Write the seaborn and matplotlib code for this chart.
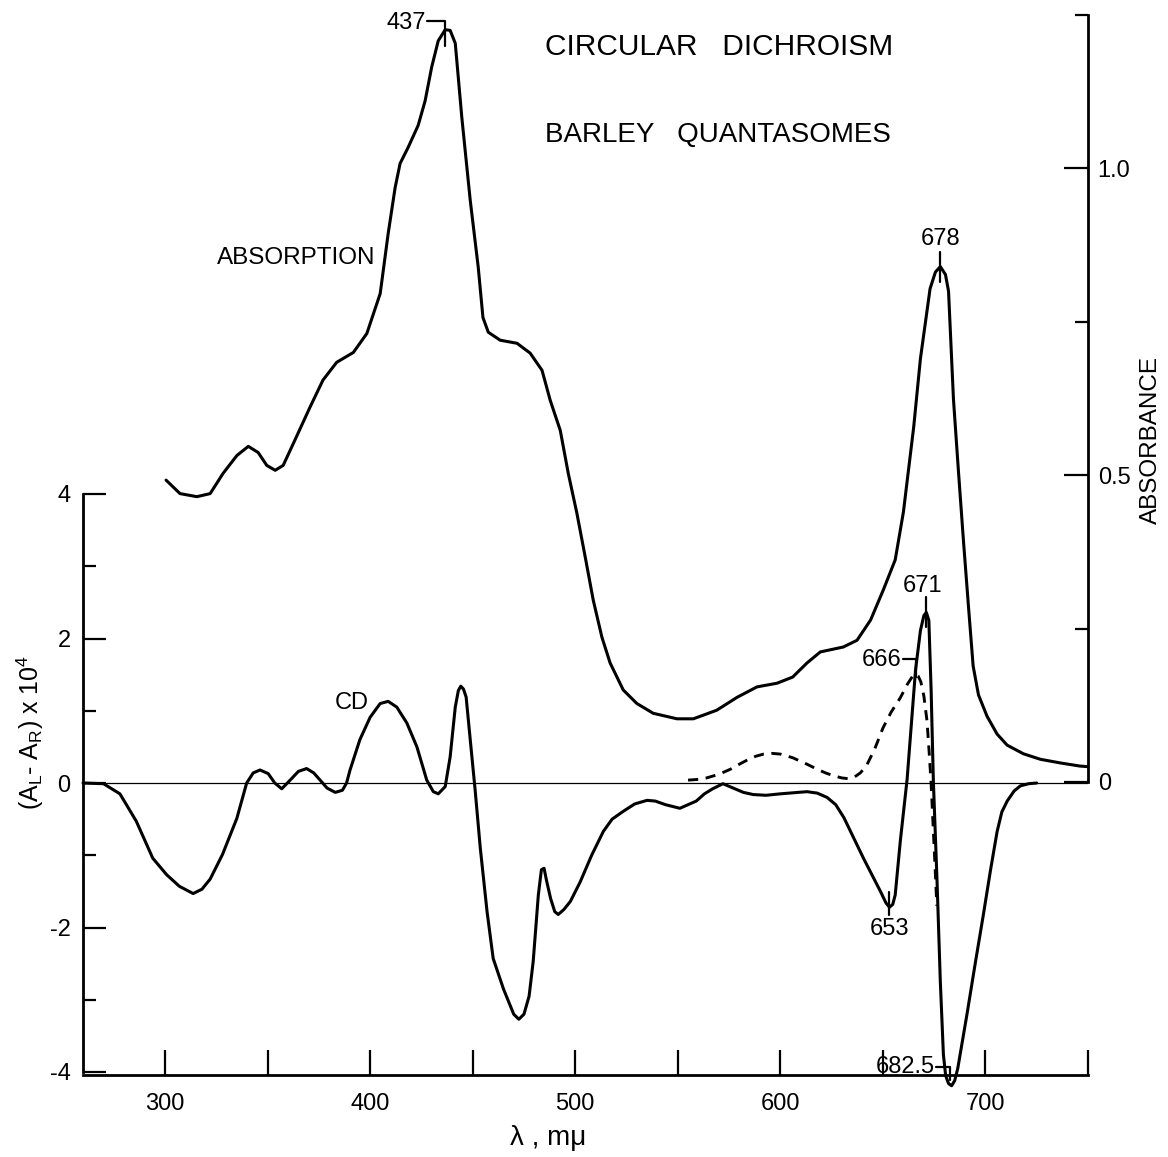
import numpy as np
import pandas as pd
import matplotlib
matplotlib.use("Agg")
import matplotlib.pyplot as plt
from matplotlib.lines import Line2D
import seaborn as sns

# ---------------- data ----------------
abs_nm = [300.5, 307.3, 315.5, 322, 328.3, 335, 340.6, 345.4, 349.6, 353.7, 357.6, 362.6, 370.7,
          377, 383.7, 391.8, 398.4, 404.9, 408.8, 412.2, 414.6, 418.5, 423.4, 426.8, 430, 433.2,
          436.6, 439, 441.5, 444.7, 448.8, 452.7, 455, 457.6, 463.4, 471.6, 478, 483.8, 487.8,
          492.7, 496.6, 500.8, 504.9, 508.8, 513, 517, 523.4, 530, 538, 549.6, 557.6, 569, 578.9,
          588.6, 598.4, 606, 613, 619.5, 630.7, 637.4, 644, 650.2, 656, 660, 665, 668.3, 673,
          675.6, 678, 680.5, 682, 684.4, 686.8, 689.3, 691.7, 694, 696.6, 700.8, 705.7, 710.6,
          718.5, 726.8, 736.6, 746, 750]
abs_val = [0.492, 0.47, 0.465, 0.47, 0.503, 0.532, 0.547, 0.537, 0.516, 0.508, 0.516, 0.552, 0.611,
           0.655, 0.684, 0.70, 0.731, 0.796, 0.894, 0.969, 1.008, 1.034, 1.07, 1.11, 1.165, 1.208,
           1.226, 1.225, 1.204, 1.083, 0.948, 0.839, 0.757, 0.733, 0.72, 0.715, 0.699, 0.671, 0.622,
           0.573, 0.503, 0.438, 0.366, 0.296, 0.236, 0.194, 0.15, 0.128, 0.112, 0.103, 0.103, 0.117,
           0.138, 0.155, 0.161, 0.171, 0.194, 0.212, 0.22, 0.231, 0.264, 0.313, 0.362, 0.44, 0.578,
           0.69, 0.804, 0.831, 0.84, 0.827, 0.80, 0.624, 0.508, 0.392, 0.287, 0.189, 0.142, 0.107,
           0.078, 0.06, 0.046, 0.037, 0.031, 0.026, 0.025]

cd_nm = [260, 270, 278, 286, 294, 300.8, 307, 313.7, 318, 322, 328, 335, 339.8, 343, 346.3, 350.3,
         353.5, 356.9, 361, 365, 369, 372.5, 375.6, 379, 383, 386.5, 388.5, 390.2, 395, 400, 404.9,
         408.8, 413, 417.9, 422.8, 427.6, 430.8, 433.2, 436.6, 439, 441.5, 443, 444.2, 445.5,
         446.8, 448.8, 451.2, 453.7, 457, 460, 465, 470, 472.5, 475, 477.5, 479.5, 482, 483.5,
         484.8, 486, 488, 490, 491.7, 494.5, 497.6, 502.4, 508, 513.7, 518, 523.5, 529, 535, 539,
         544, 551, 555, 559, 563, 567, 572, 577, 582, 586.8, 593, 600, 613, 618, 622.8, 627, 631,
         640.5, 648.8, 651.5, 653.2, 654.8, 656, 658.5, 661.8, 665.9, 668.3, 670, 671.2, 672.4,
         673.5, 674.6, 676.4, 678, 679.5, 680.6, 682, 683.5, 685, 686.5, 691, 695, 699, 702.5,
         705.7, 708, 710.6, 714, 717, 721, 725]
cd_val = [0, -0.01, -0.15, -0.53, -1.04, -1.27, -1.43, -1.53, -1.47, -1.33, -0.99, -0.49, 0.0, 0.14,
          0.18, 0.13, 0.0, -0.08, 0.04, 0.16, 0.2, 0.14, 0.04, -0.07, -0.13, -0.1, 0.0, 0.18, 0.6,
          0.91, 1.1, 1.13, 1.05, 0.83, 0.5, 0.04, -0.12, -0.15, -0.05, 0.36, 1.05, 1.28, 1.34, 1.3,
          1.19, 0.6, -0.1, -0.9, -1.78, -2.43, -2.85, -3.2, -3.27, -3.2, -2.95, -2.47, -1.55, -1.2,
          -1.18, -1.35, -1.6, -1.78, -1.82, -1.75, -1.64, -1.37, -1.0, -0.67, -0.5, -0.39, -0.29,
          -0.24, -0.25, -0.3, -0.35, -0.3, -0.25, -0.15, -0.08, -0.01, -0.07, -0.13, -0.16, -0.17,
          -0.15, -0.12, -0.14, -0.2, -0.3, -0.48, -1.04, -1.5, -1.66, -1.72, -1.68, -1.55, -0.8,
          0.05, 1.56, 2.11, 2.32, 2.36, 2.25, 1.3, 0.03, -1.36, -2.75, -3.76, -4.05, -4.16, -4.19,
          -4.12, -3.95, -3.2, -2.5, -1.82, -1.2, -0.67, -0.4, -0.25, -0.11, -0.04, -0.01, 0]

dash_nm = [555, 560, 564, 570, 575.6, 580, 584, 588, 591.8, 596, 600, 606, 613, 618, 622, 626,
           630, 633, 636, 639, 642, 646, 650, 654, 658.5, 662, 664.5, 665.9, 667.2, 668.5, 670,
           671.5, 672.5, 673.5, 674.5, 675.5, 676.3]
dash_val = [0.04, 0.05, 0.07, 0.12, 0.19, 0.26, 0.32, 0.37, 0.4, 0.41, 0.4, 0.35, 0.26, 0.19, 0.14,
            0.1, 0.07, 0.06, 0.08, 0.14, 0.24, 0.47, 0.76, 0.98, 1.18, 1.37, 1.48, 1.51, 1.48, 1.4,
            1.2, 0.86, 0.45, 0.0, -0.6, -1.2, -1.7]

x_major = [300, 400, 500, 600, 700]
x_minor = [350, 450, 550, 650, 750]
cd_major = [-4, -2, 0, 2, 4]
cd_major_labels = ["-4", "-2", "0", "2", "4"]
cd_minor = [-3, -1, 1, 3]
abs_major = [0, 0.5, 1.0]
abs_major_labels = ["0", "0.5", "1.0"]
abs_minor = [0.25, 0.75, 1.25]

# peak labels: (text, series, wavelength)
peaks = [("437", "abs", 437.5), ("678", "abs", 678), ("671", "cd", 671.2),
         ("666", "dash", 665.9), ("653", "cd", 653.2), ("682.5", "cd", 683.5)]

# ---------------- figure ----------------
sns.set_theme(style="white")
plt.rcParams["font.family"] = ["Liberation Sans", "DejaVu Sans"]
plt.rcParams["mathtext.fontset"] = "custom"
plt.rcParams["mathtext.rm"] = "Liberation Sans"
plt.rcParams["axes.unicode_minus"] = False
for key in ("text.color", "axes.labelcolor", "xtick.color", "ytick.color", "axes.edgecolor"):
    plt.rcParams[key] = "black"

W, H = 1168, 1157
fig = plt.figure(figsize=(W / 100, H / 100), dpi=100)
fig.patch.set_facecolor("white")
ax = fig.add_axes([83 / W, 1 - 1075 / H, (1088 - 83) / W, (1075 - 15) / H])
ax.set_facecolor("none")
ax2 = ax.twinx()
ax2.set_position(ax.get_position())

cd_df = pd.DataFrame({"nm": cd_nm, "cd": cd_val})
dash_df = pd.DataFrame({"nm": dash_nm, "cd": dash_val})
abs_df = pd.DataFrame({"nm": abs_nm, "A": abs_val})

lw = 2.2
ax.axhline(0, color="black", lw=0.9, zorder=1)
sns.lineplot(data=cd_df, x="nm", y="cd", ax=ax, color="black", lw=lw, sort=False,
             estimator=None, zorder=3, clip_on=False)
sns.lineplot(data=dash_df, x="nm", y="cd", ax=ax, color="black", lw=lw * 0.95, sort=False,
             estimator=None, linestyle=(0, (3.5, 2.6)), zorder=3, clip_on=False)
sns.lineplot(data=abs_df, x="nm", y="A", ax=ax2, color="black", lw=lw, sort=False,
             estimator=None, zorder=3, clip_on=False)

ax.set_xlim(260, 750)
ax.set_ylim((783 - 1075) / 72.25, (783 - 15) / 72.25)
ax2.set_ylim((782 - 1075) / 613.6, 1.25)

ax.set_xlabel("")
ax.set_ylabel("")
ax2.set_ylabel("")

for a in (ax, ax2):
    for s in a.spines.values():
        s.set_visible(False)
        s.set_linewidth(2.0)
        s.set_color("black")
ax.spines["left"].set_visible(True)
ax.spines["left"].set_bounds(-4, 4)
ax.spines["bottom"].set_visible(True)
ax2.spines["right"].set_visible(True)
ax2.spines["right"].set_bounds(0, 1.25)

fs_tick = 17
ax.set_xticks(x_major)
ax.set_xticks(x_minor, minor=True)
ax.set_xticklabels([str(v) for v in x_major], fontsize=fs_tick)
ax.set_yticks(cd_major)
ax.set_yticks(cd_minor, minor=True)
ax.set_yticklabels(cd_major_labels, fontsize=fs_tick)
ax.tick_params(axis="x", which="both", direction="in", length=18, width=1.6, pad=13,
               bottom=True, top=False)
ax.tick_params(axis="y", which="major", direction="in", length=16.5, width=1.6, pad=9,
               left=True, right=False)
ax.tick_params(axis="y", which="minor", direction="in", length=9.5, width=1.6,
               left=True, right=False)

ax2.set_yticks(abs_major)
ax2.set_yticks(abs_minor, minor=True)
ax2.set_yticklabels(abs_major_labels, fontsize=fs_tick)
ax2.tick_params(axis="y", which="major", direction="in", length=17, width=1.6, pad=7,
                right=True, left=False)
ax2.tick_params(axis="y", which="minor", direction="in", length=9.5, width=1.6,
                right=True, left=False)
ax2.tick_params(axis="x", which="both", bottom=False, top=False, labelbottom=False)
ax2.grid(False)
ax.grid(False)

# ---------------- texts ----------------
fig.text(719 / W, 1 - 47 / H, "CIRCULAR   DICHROISM", ha="center", va="center", fontsize=21.5)
fig.text(718 / W, 1 - 135 / H, "BARLEY   QUANTASOMES", ha="center", va="center", fontsize=20)
fig.text(217 / W, 1 - 258 / H, "ABSORPTION", ha="left", va="center", fontsize=17.5)
ax.text(391, 1.11, "CD", ha="center", va="center", fontsize=17)
fig.text(548 / W, 1 - 1138 / H, "λ , mμ", ha="center", va="center", fontsize=20)
fig.text(30 / W, 1 - 732 / H, r"(A$_\mathrm{L}$- A$_\mathrm{R}$) x 10$^4$", ha="center",
         va="center", rotation=90, fontsize=18)
fig.text(1151 / W, 1 - 440 / H, "ABSORBANCE", ha="center", va="center", rotation=90,
         fontsize=17.5)

# ---------------- peak markers ----------------
fig.canvas.draw()
series = {"abs": (abs_nm, abs_val, ax2), "cd": (cd_nm, cd_val, ax), "dash": (dash_nm, dash_val, ax)}
# bracket geometry in pixels relative to the marked point (image coords, y down)
marks = {
    "437": dict(path=[(-18, -9), (0, -9), (0, 16)], txt=(-19, -7), ha="right"),
    "678": dict(path=[(0, -15), (0, 15)], txt=(0, -28), ha="center"),
    "671": dict(path=[(0, -15), (0, 15)], txt=(-4, -26), ha="center"),
    "666": dict(path=[(-13, -15), (0, -15), (0, 3)], txt=(-14, -14), ha="right"),
    "653": dict(path=[(0, -15), (0, 8)], txt=(0, 22), ha="center"),
    "682.5": dict(path=[(-16, -19), (-2, -19), (-2, -6)], txt=(-17, -19), ha="right"),
}
for label, key, wl in peaks:
    xs, ys, a = series[key]
    i = int(np.argmin(np.abs(np.array(xs) - wl)))
    px, py = a.transData.transform((xs[i], ys[i]))
    m = marks[label]
    lx = [px + dx for dx, dy in m["path"]]
    ly = [py - dy for dx, dy in m["path"]]
    fig.add_artist(Line2D(lx, ly, transform=None, color="black", lw=1.6))
    fig.text((px + m["txt"][0]) / W, (py - m["txt"][1]) / H, label, ha=m["ha"],
             va="center", fontsize=17)

fig.savefig("out.png", dpi=100, facecolor="white")
